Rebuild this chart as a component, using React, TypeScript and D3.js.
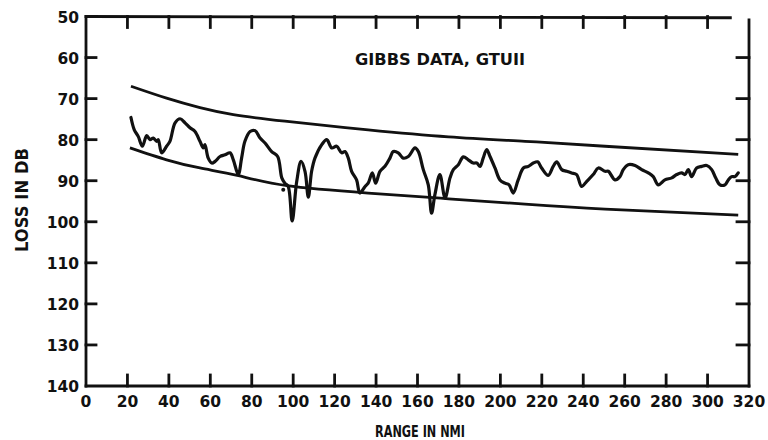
import React from "react";
import * as d3 from "d3";

const X_TICKS = [0, 20, 40, 60, 80, 100, 120, 140, 160, 180, 200, 220, 240, 260, 280, 300, 320];
const Y_TICKS = [50, 60, 70, 80, 90, 100, 110, 120, 130, 140];
const INNER_X_TICKS = [20, 40, 60, 80, 100, 120, 140, 160, 180, 200, 220, 240, 260, 280, 300];
const INNER_Y_TICKS = [60, 70, 80, 90, 100, 110, 120, 130];

const TITLE = "GIBBS DATA, GTUII";
const X_LABEL = "RANGE IN NMI";
const Y_LABEL = "LOSS IN DB";

const DATA_RANGE = [
  21.7, 23.3, 25.2, 27.2, 29.3, 30.9, 32.5, 34.1, 34.9, 36.5, 38.9, 40.5, 43.0, 45.4, 47.8, 50.2,
  52.6, 55.0, 56.6, 57.4, 59.0, 60.7, 62.3, 64.7, 67.1, 69.5, 71.1, 73.5, 75.1, 76.7, 79.2, 81.6,
  84.0, 86.4, 89.6, 92.5, 94.5, 96.0, 97.6, 99.5, 101.7, 103.8, 105.7, 107.3, 108.9, 110.5, 113.8,
  116.2, 118.6, 121.0, 123.4, 125.0, 126.6, 128.2, 130.6, 132.2, 134.7, 136.2, 138.2, 139.8, 141.9,
  144.3, 146.7, 148.3, 150.7, 153.1, 155.6, 158.8, 160.4, 162.8, 165.2, 166.8, 168.4, 170.8, 173.3,
  175.7, 177.3, 179.7, 182.1, 184.5, 186.9, 188.6, 190.2, 191.7, 193.4, 195.0, 197.4, 199.8, 202.2,
  204.2, 206.2, 208.6, 211.1, 213.5, 215.9, 218.0, 219.9, 223.1, 225.5, 227.2, 229.6, 232.0, 234.4,
  236.8, 239.2, 241.6, 244.8, 247.3, 250.5, 252.1, 255.3, 257.7, 259.3, 261.7, 265.0, 268.2, 271.4,
  273.8, 276.2, 279.4, 282.7, 285.1, 287.5, 289.1, 290.7, 292.3, 294.7, 297.2, 299.6, 302.0, 303.9,
  306.0, 308.4, 310.0, 311.6, 313.2, 314.8,
];
const DATA_LOSS = [
  74.6, 77.6, 79.2, 81.6, 79.0, 80.0, 79.6, 80.4, 80.0, 83.2, 81.6, 80.4, 75.9, 74.9, 75.9, 77.1,
  78.0, 80.4, 82.0, 81.2, 84.5, 85.7, 85.3, 84.1, 83.7, 83.2, 84.9, 88.5, 84.5, 80.4, 78.0, 77.8,
  79.6, 80.8, 82.9, 84.1, 89.3, 90.6, 91.4, 99.8, 90.2, 85.3, 87.7, 94.0, 87.7, 84.5, 81.2,
  80.0, 82.0, 81.6, 83.2, 82.9, 84.5, 87.7, 89.8, 93.0, 91.4, 90.6, 88.1, 90.6, 87.7,
  86.5, 84.5, 82.9, 83.2, 84.5, 84.1, 82.0, 82.9, 87.3, 91.0, 97.9, 93.4, 88.5, 94.2,
  89.3, 87.3, 86.1, 84.2, 84.9, 85.7, 85.7, 86.5, 84.5, 82.4, 84.1, 86.9, 89.8, 90.6,
  91.0, 93.0, 89.8, 86.9, 86.5, 85.7, 85.4, 86.9, 88.7, 86.5, 85.4, 87.3, 87.7, 88.1,
  88.5, 91.4, 90.2, 88.5, 86.9, 87.7, 87.7, 89.8, 89.0, 87.3, 86.1, 86.3, 87.3, 88.1,
  89.0, 91.0, 89.8, 89.3, 88.5, 88.1, 88.5, 87.3, 89.0, 86.9, 86.5, 86.3, 87.3, 89.3,
  91.0, 91.0, 89.8, 89.0, 89.0, 88.1,
];

const UPPER_RANGE = [21.7, 38.9, 55.0, 71.1, 96.0, 136.2, 175.0, 211.9, 250.5, 314.8];
const UPPER_LOSS = [67.0, 69.9, 72.2, 73.9, 75.5, 77.6, 79.3, 80.4, 81.6, 83.6];
const LOWER_RANGE = [21.2, 38.9, 55.0, 73.0, 97.0, 136.2, 175.0, 211.9, 250.5, 314.8];
const LOWER_LOSS = [82.0, 84.9, 86.9, 88.7, 91.2, 93.0, 94.4, 95.7, 96.9, 98.4];

const STRAY_RANGE = [95.2];
const STRAY_LOSS = [92.2];

const W = 768;
const H = 440;
const FONT = "'DejaVu Sans', 'Liberation Sans', Arial, sans-serif";

export default function App() {
  const x = d3.scaleLinear().domain([0, 320]).range([86, 749]);
  const y = d3.scaleLinear().domain([50, 140]).range([16.5, 386]);

  const mk = (xs: number[], ys: number[], curve: any) =>
    d3
      .line<number>()
      .x((d, i) => x(xs[i]))
      .y((d, i) => y(ys[i]))
      .curve(curve)(xs) as string;

  const dataPath = mk(DATA_RANGE, DATA_LOSS, d3.curveCatmullRom.alpha(0.5));
  const upperPath = mk(UPPER_RANGE, UPPER_LOSS, d3.curveNatural);
  const lowerPath = mk(LOWER_RANGE, LOWER_LOSS, d3.curveNatural);

  const tickStyle = { fontFamily: FONT, fontWeight: 700, fontSize: 15.5, fill: "#111" } as const;

  return (
    <svg
      width={W}
      height={H}
      style={{ position: "absolute", left: 0, top: 0, background: "#fff" }}
    >
      <rect x={0} y={0} width={W} height={H} fill="#fff" />
      <g stroke="#111" strokeWidth={2.8} strokeLinecap="square" fill="none">
        <line x1={x(0)} y1={y(50)} x2={x(0)} y2={y(140)} />
        <line x1={x(0)} y1={y(140)} x2={x(320)} y2={y(140)} />
        <line x1={x(320)} y1={y(50.8)} x2={x(320)} y2={y(140)} />
        <line x1={x(0)} y1={y(50)} x2={x(311)} y2={y(50.3)} />
        {INNER_Y_TICKS.map((t) => (
          <line key={"l" + t} x1={x(0)} y1={y(t)} x2={x(0) + 10} y2={y(t)} />
        ))}
        {INNER_Y_TICKS.map((t) => (
          <line key={"r" + t} x1={x(320)} y1={y(t)} x2={x(320) - 12} y2={y(t)} />
        ))}
        {INNER_X_TICKS.map((t) => (
          <line key={"b" + t} x1={x(t)} y1={y(140)} x2={x(t)} y2={y(140) - 11} />
        ))}
        {INNER_X_TICKS.map((t) => (
          <line key={"t" + t} x1={x(t)} y1={y(50)} x2={x(t)} y2={y(50) + 11} />
        ))}
      </g>

      {Y_TICKS.map((t) => (
        <text key={"yl" + t} x={x(0) - 7} y={y(t) + 6} textAnchor="end" style={tickStyle}>
          {t}
        </text>
      ))}
      {X_TICKS.map((t) => (
        <text key={"xl" + t} x={x(t)} y={y(140) + 21} textAnchor="middle" style={tickStyle}>
          {t}
        </text>
      ))}

      <path d={upperPath} fill="none" stroke="#111" strokeWidth={2.8} />
      <path d={lowerPath} fill="none" stroke="#111" strokeWidth={2.8} />
      <path
        d={dataPath}
        fill="none"
        stroke="#111"
        strokeWidth={3.2}
        strokeLinejoin="round"
        strokeLinecap="round"
      />
      {STRAY_RANGE.map((r, i) => (
        <circle key={"s" + i} cx={x(r)} cy={y(STRAY_LOSS[i])} r={2} fill="#111" />
      ))}

      <text
        x={440}
        y={65}
        textAnchor="middle"
        textLength={170}
        lengthAdjust="spacingAndGlyphs"
        style={{ fontFamily: FONT, fontWeight: 700, fontSize: 16, fill: "#111" }}
      >
        {TITLE}
      </text>
      <text
        x={420}
        y={437}
        textAnchor="middle"
        textLength={90}
        lengthAdjust="spacingAndGlyphs"
        style={{ fontFamily: FONT, fontWeight: 700, fontSize: 16, fill: "#111" }}
      >
        {X_LABEL}
      </text>
      <text
        transform="translate(28,200) rotate(-90)"
        textAnchor="middle"
        textLength={104}
        lengthAdjust="spacingAndGlyphs"
        style={{ fontFamily: FONT, fontWeight: 700, fontSize: 17, fill: "#111" }}
      >
        {Y_LABEL}
      </text>
    </svg>
  );
}
